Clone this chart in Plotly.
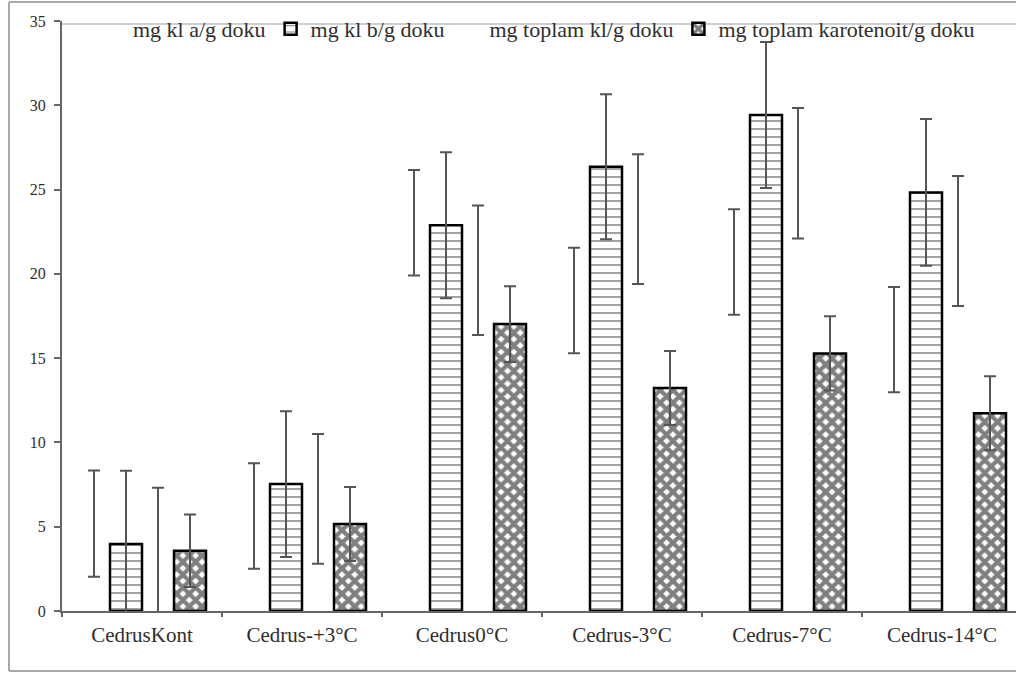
import plotly.graph_objects as go

# Pigment contents per treatment (mean and error)
categories = ["CedrusKont", "Cedrus-+3°C", "Cedrus0°C", "Cedrus-3°C", "Cedrus-7°C", "Cedrus-14°C"]

kl_a = [5.18, 5.63, 23.03, 18.42, 20.70, 16.10]
kl_a_err = [3.15, 3.13, 3.13, 3.13, 3.13, 3.12]

kl_b = [3.97, 7.53, 22.89, 26.35, 29.42, 24.83]
kl_b_err = [4.35, 4.32, 4.33, 4.30, 4.33, 4.35]

toplam_kl = [3.48, 6.65, 20.22, 23.25, 25.97, 21.95]
toplam_kl_err = [3.83, 3.85, 3.84, 3.85, 3.87, 3.86]

karotenoit = [3.58, 5.16, 17.02, 13.23, 15.28, 11.73]
karotenoit_err = [2.15, 2.20, 2.25, 2.20, 2.20, 2.20]

y_ticks = [0, 5, 10, 15, 20, 25, 30, 35]

W, H = 1016, 674
ML, MR, MT, MB = 62, 0, 21, 63
PW, PH = W - ML - MR, H - MT - MB

FONT = "Liberation Serif"
TXT = "#2e2e2e"
ERR = "#555555"


def px_x(px):
    return (px - ML) / PW


def px_y(py):
    return (H - MB - py) / PH


def err(vals):
    return dict(type="data", array=vals, visible=True, color=ERR, thickness=2, width=6)


fig = go.Figure()

fig.add_trace(go.Bar(
    name="mg kl a/g doku", x=categories, y=kl_a, error_y=err(kl_a_err),
    marker=dict(color="rgba(0,0,0,0)", line=dict(width=0)),
))
fig.add_trace(go.Bar(
    name="mg kl b/g doku", x=categories, y=kl_b, error_y=err(kl_b_err),
    marker=dict(color="white", line=dict(color="black", width=2.5),
                pattern=dict(shape="-", fgcolor="black", bgcolor="white",
                             size=8, solidity=0.2, fgopacity=0.45)),
))
fig.add_trace(go.Bar(
    name="mg toplam kl/g doku", x=categories, y=toplam_kl, error_y=err(toplam_kl_err),
    marker=dict(color="rgba(0,0,0,0)", line=dict(width=0)),
))
fig.add_trace(go.Bar(
    name="mg toplam karotenoit/g doku", x=categories, y=karotenoit, error_y=err(karotenoit_err),
    marker=dict(color="white", line=dict(color="black", width=2.5),
                pattern=dict(shape="x", fgcolor="black", bgcolor="white",
                             size=9, solidity=0.72)),
))

# outer frame and the thin line along the top of the plotting area
frame = "#a8a8a8"
shapes = [
    dict(type="line", xref="paper", yref="paper", x0=px_x(9), x1=px_x(9), y0=px_y(2), y1=px_y(671),
         line=dict(color=frame, width=2)),
    dict(type="line", xref="paper", yref="paper", x0=px_x(9), x1=px_x(W), y0=px_y(2), y1=px_y(2),
         line=dict(color=frame, width=2)),
    dict(type="line", xref="paper", yref="paper", x0=px_x(9), x1=px_x(W), y0=px_y(671), y1=px_y(671),
         line=dict(color=frame, width=2)),
    dict(type="line", xref="paper", yref="paper", x0=0, x1=px_x(W), y0=px_y(24), y1=px_y(24),
         line=dict(color="#cfcfcf", width=2), layer="below"),
]

fig.update_layout(
    width=W, height=H,
    margin=dict(l=ML, r=MR, t=MT, b=MB, autoexpand=False),
    paper_bgcolor="white", plot_bgcolor="white",
    barmode="group", bargap=0.2, bargroupgap=0,
    font=dict(family=FONT, color=TXT),
    shapes=shapes,
    legend=dict(
        orientation="h", x=px_x(93), xanchor="left", y=px_y(8), yanchor="top",
        bgcolor="rgba(0,0,0,0)", font=dict(family=FONT, size=22, color=TXT),
        itemwidth=30, tracegroupgap=0,
    ),
    xaxis=dict(
        range=[-0.5, -0.5 + PW / 160], showgrid=False, zeroline=False,
        showline=True, linecolor="#666666", linewidth=2,
        ticks="outside", tickson="boundaries", ticklen=4, tickwidth=1.5, tickcolor="#666666",
        tickfont=dict(family=FONT, size=21, color=TXT), ticklabelstandoff=4,
    ),
    yaxis=dict(
        range=[0, 35], tickvals=y_ticks, showgrid=False, zeroline=False,
        showline=True, linecolor="#666666", linewidth=2,
        ticks="outside", ticklen=6, tickwidth=1.5, tickcolor="#666666",
        tickfont=dict(family=FONT, size=16, color=TXT), ticklabelstandoff=5,
    ),
)

fig.write_html("out.html")
